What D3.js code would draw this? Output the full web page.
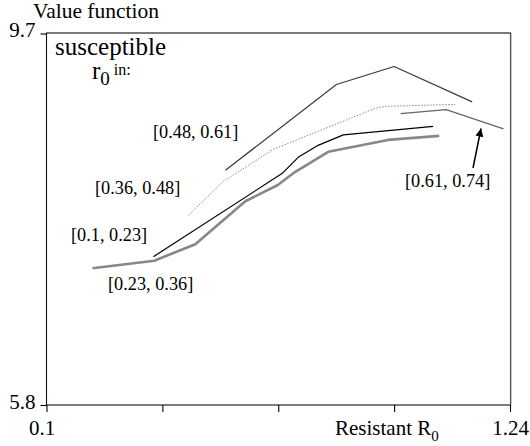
<!DOCTYPE html>
<html>
<head>
<meta charset="utf-8">
<script src="https://cdn.jsdelivr.net/npm/d3@7"></script>
<style>
  html, body { margin: 0; padding: 0; background: #fff; }
  svg { display: block; font-family: "Liberation Serif", "Times New Roman", serif; }
</style>
</head>
<body>
<svg id="chart" width="530" height="446"></svg>
<script>
// ---- data ----
const xTicks = [0.1, 0.385, 0.67, 0.955, 1.24];
const xTickLabels = ["0.1", "", "", "", "1.24"];
const yTicks = [5.8, 9.7];
const yTickLabels = ["5.8", "9.7"];

const seriesNames = ["[0.1, 0.23]", "[0.23, 0.36]", "[0.36, 0.48]", "[0.48, 0.61]", "[0.61, 0.74]"];

const r010X = [0.363, 0.680, 0.719, 0.768, 0.830, 1.051];
const r010Y = [7.357, 8.232, 8.400, 8.526, 8.636, 8.725];

const r023X = [0.213, 0.365, 0.466, 0.589, 0.668, 0.712, 0.793, 0.940, 1.066];
const r023Y = [7.236, 7.315, 7.488, 7.939, 8.107, 8.248, 8.458, 8.583, 8.625];

const r036X = [0.449, 0.535, 0.658, 0.908, 0.933, 1.105];
const r036Y = [7.792, 8.148, 8.484, 8.914, 8.935, 8.956];

const r048X = [0.540, 0.813, 0.955, 1.147];
const r048Y = [8.264, 9.165, 9.354, 8.982];

const r061X = [0.971, 1.083, 1.224];
const r061Y = [8.858, 8.901, 8.699];

const seriesX = [r010X, r023X, r036X, r048X, r061X];
const seriesY = [r010Y, r023Y, r036Y, r048Y, r061Y];

// ---- styles / layout ----
const styles = [
  { stroke: "#000", width: 1.2, dash: null },
  { stroke: "#888", width: 2.6, dash: null },
  { stroke: "#8a8a8a", width: 1, dash: "1.5,1.5" },
  { stroke: "#3a3a3a", width: 1.2, dash: null },
  { stroke: "#666", width: 1.3, dash: null }
];
const labelPos = [
  { x: 71, y: 241 },
  { x: 108, y: 290 },
  { x: 95, y: 194 },
  { x: 153, y: 138 },
  { x: 405, y: 187 }
];

const svg = d3.select("#chart");
const pLeft = 46.5, pRight = 510, pTop = 33.5, pBottom = 405;
const x = d3.scaleLinear().domain([0.1, 1.24]).range([pLeft, pRight]);
const y = d3.scaleLinear().domain([5.8, 9.7]).range([pBottom, pTop]);

// frame
svg.append("rect")
  .attr("x", pLeft).attr("y", pTop - 0.5)
  .attr("width", pRight - pLeft + 0.5).attr("height", pBottom - pTop + 0.5)
  .attr("fill", "none").attr("stroke", "#111").attr("stroke-width", 1.1);
svg.append("line")
  .attr("x1", pRight + 1).attr("x2", pRight + 1).attr("y1", pTop).attr("y2", pBottom)
  .attr("stroke", "#999").attr("stroke-width", 1);

// x axis
const xAxis = svg.append("g")
  .attr("transform", `translate(0,${pBottom})`)
  .call(d3.axisBottom(x).tickValues(xTicks).tickSize(7).tickPadding(8)
    .tickFormat((d, i) => xTickLabels[i]));
xAxis.select(".domain").remove();
xAxis.selectAll(".tick line").attr("stroke", "#000").attr("stroke-width", 1.1);
xAxis.selectAll(".tick text")
  .attr("font-family", "Liberation Serif, serif").attr("font-size", 21).attr("fill", "#000")
  .attr("dx", (d, i) => i === 0 ? -5 : 0);

// y axis
const yAxis = svg.append("g")
  .attr("transform", `translate(${pLeft},0)`)
  .call(d3.axisLeft(y).tickValues(yTicks).tickSize(6).tickPadding(5)
    .tickFormat((d, i) => yTickLabels[i]));
yAxis.select(".domain").remove();
yAxis.selectAll(".tick line").attr("stroke", "#000").attr("stroke-width", 1.1);
yAxis.selectAll(".tick text")
  .attr("font-family", "Liberation Serif, serif").attr("font-size", 21).attr("fill", "#000")
  .attr("dy", "0.15em");

// lines
const line = d3.line().x(d => x(d[0])).y(d => y(d[1]));
seriesX.forEach((xs, i) => {
  const pts = xs.map((v, j) => [v, seriesY[i][j]]);
  const st = styles[i];
  svg.append("path")
    .datum(pts)
    .attr("d", line)
    .attr("fill", "none")
    .attr("stroke", st.stroke)
    .attr("stroke-width", st.width)
    .attr("stroke-dasharray", st.dash)
    .attr("stroke-linejoin", "round");
});

// series labels
seriesNames.forEach((name, i) => {
  svg.append("text")
    .attr("x", labelPos[i].x).attr("y", labelPos[i].y)
    .attr("font-size", 18.3).attr("fill", "#000")
    .text(name);
});

// arrow to the [0.61, 0.74] series
svg.append("defs").append("marker")
  .attr("id", "arrowhead").attr("viewBox", "0 0 10 10")
  .attr("refX", 10).attr("refY", 5)
  .attr("markerWidth", 10).attr("markerHeight", 8)
  .attr("markerUnits", "userSpaceOnUse")
  .attr("orient", "auto")
  .append("path").attr("d", "M0,0 L10,5 L0,10 Z").attr("fill", "#000");
svg.append("line")
  .attr("x1", 473).attr("y1", 168)
  .attr("x2", 481).attr("y2", 128.5)
  .attr("stroke", "#000").attr("stroke-width", 1.5)
  .attr("marker-end", "url(#arrowhead)");

// titles
svg.append("text").attr("x", 33).attr("y", 18)
  .attr("font-size", 21.5).attr("fill", "#000").text("Value function");

const xl = svg.append("text").attr("x", 335).attr("y", 435)
  .attr("font-size", 21).attr("fill", "#000");
xl.append("tspan").text("Resistant R");
xl.append("tspan").attr("font-size", 15).attr("dy", 6).text("0");

svg.append("text").attr("x", 55).attr("y", 55)
  .attr("font-size", 25).attr("fill", "#000").text("susceptible");
const rin = svg.append("text").attr("x", 92).attr("y", 79)
  .attr("font-size", 25).attr("fill", "#000");
rin.append("tspan").text("r");
rin.append("tspan").attr("font-size", 19).attr("dy", 6).text("0");
rin.append("tspan").attr("font-size", 16).attr("dy", -10).attr("dx", 4).text("in:");
</script>
</body>
</html>
